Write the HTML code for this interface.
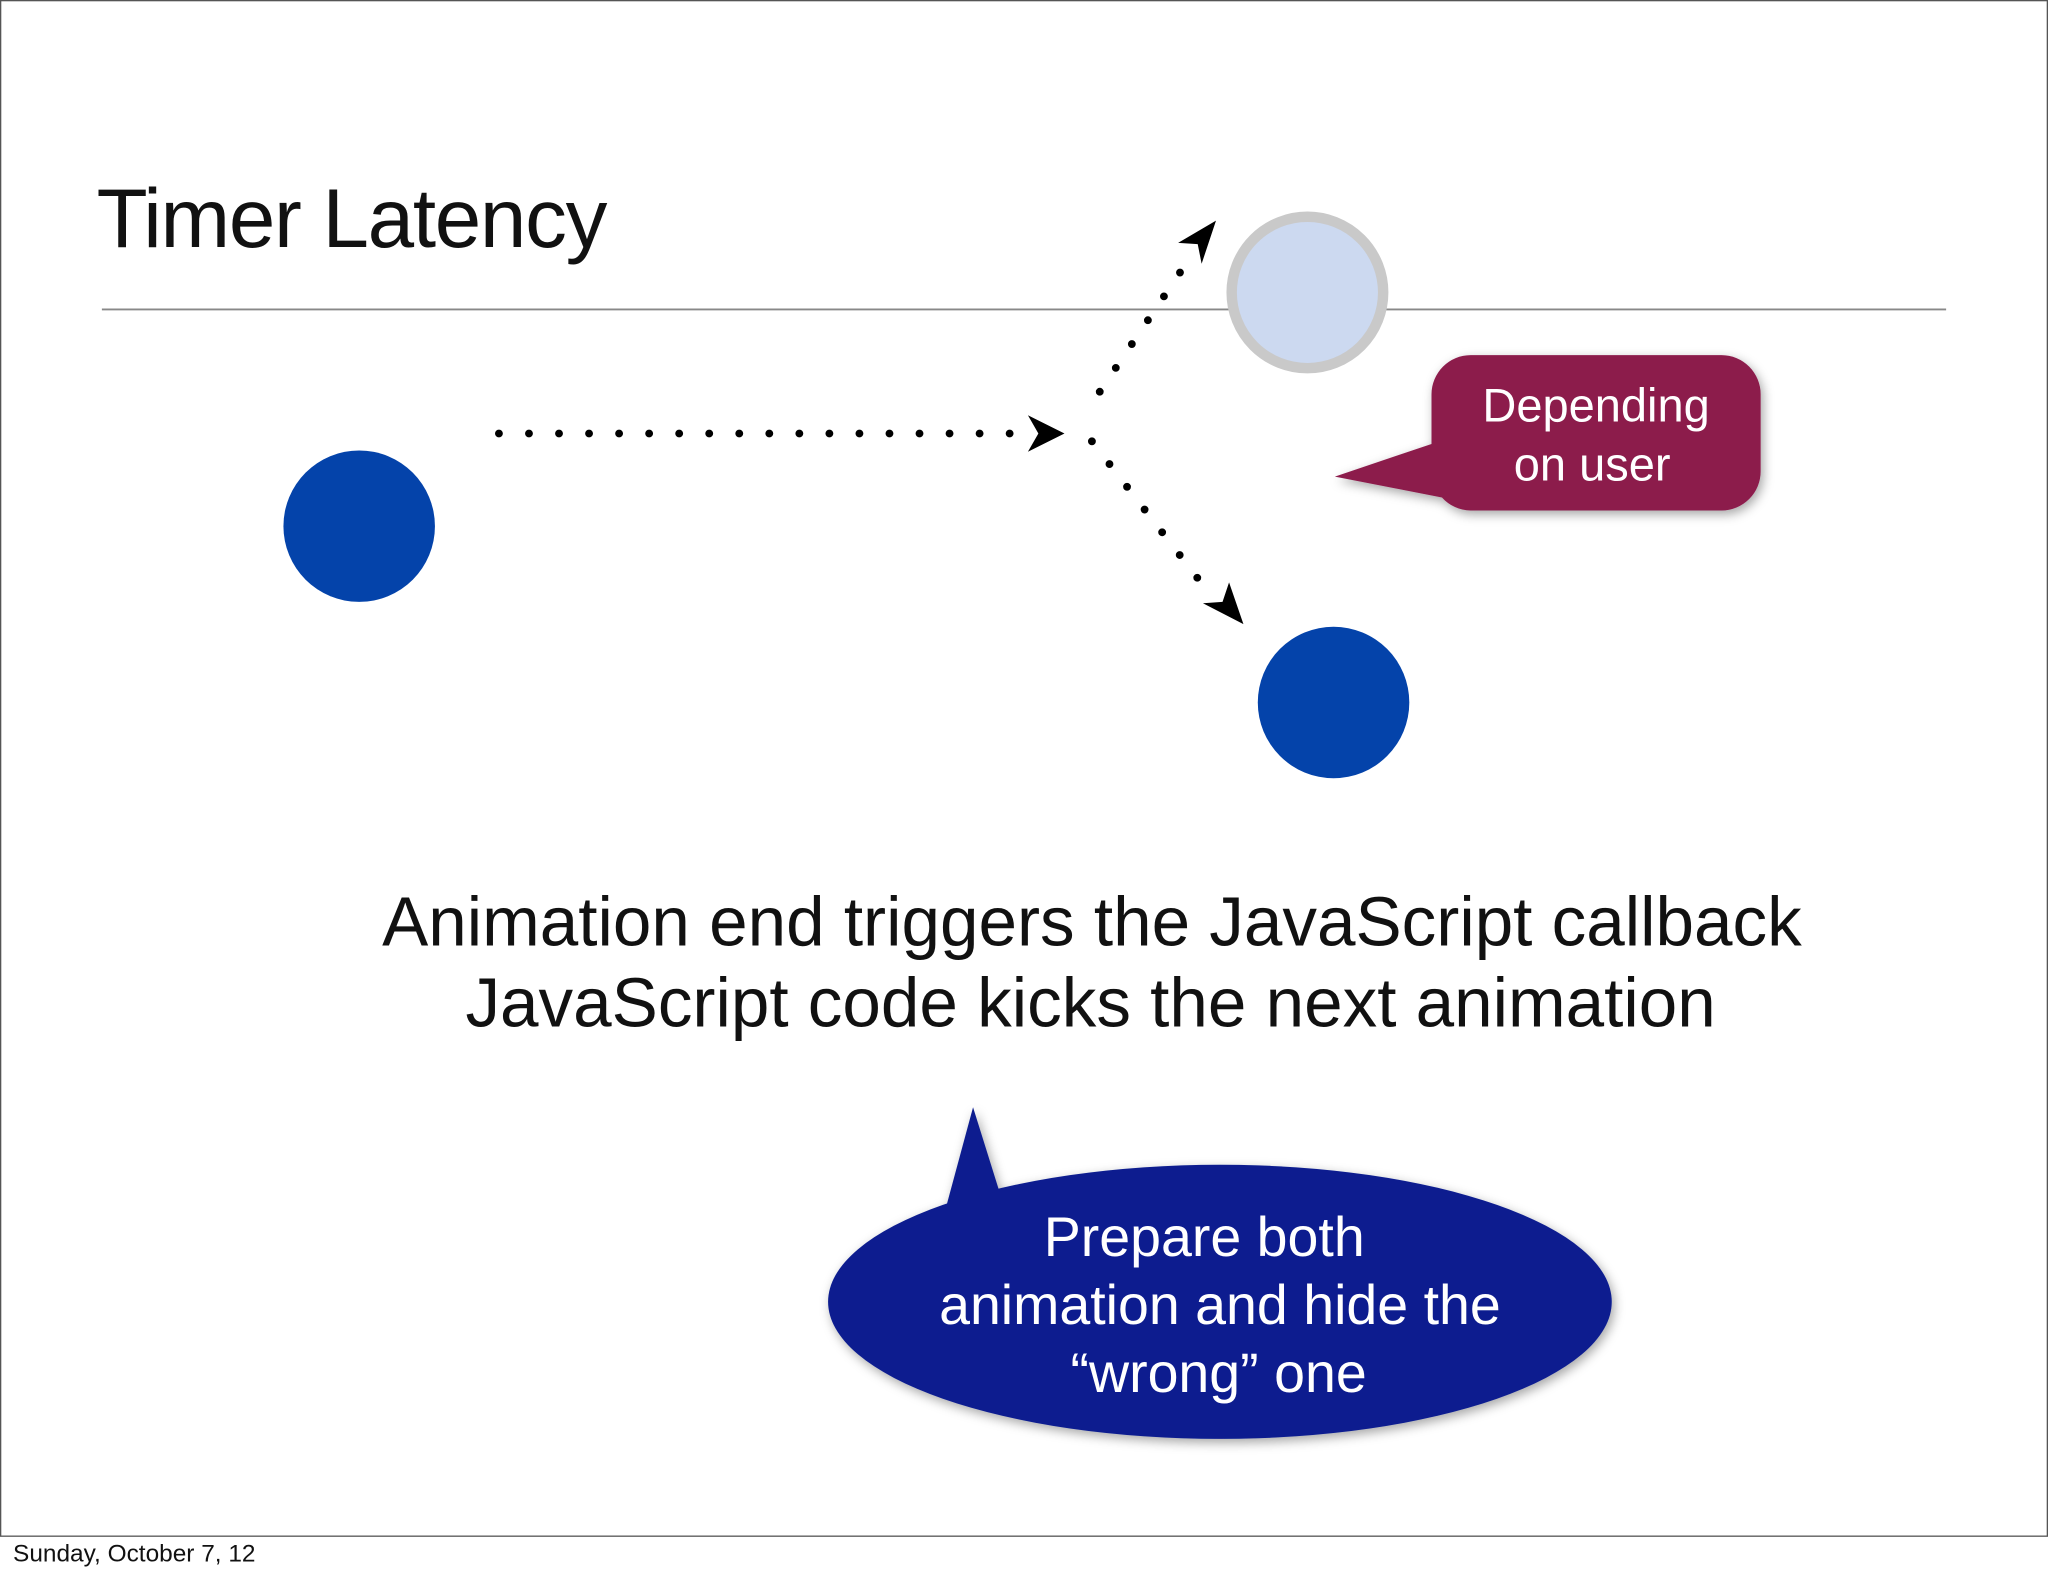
<!DOCTYPE html>
<html><head><meta charset="utf-8"><style>
html,body{margin:0;padding:0;background:#fff;}
svg{display:block;}
text{font-family:"Liberation Sans",sans-serif;}
</style></head><body>
<svg width="2048" height="1576" viewBox="0 0 1568 1207" preserveAspectRatio="none" xmlns="http://www.w3.org/2000/svg">
<defs>
<filter id="sh" x="-20%" y="-20%" width="140%" height="140%"><feDropShadow dx="2" dy="3" stdDeviation="4" flood-color="#000" flood-opacity="0.35"/></filter>
</defs>
<rect x="0.5" y="0.5" width="1567" height="1176" fill="#fff" stroke="#555" stroke-width="1"/>
<text x="10" y="1196" font-size="18.7" fill="#111">Sunday, October 7, 12</text>
<text x="74" y="189" font-size="64" fill="#111" letter-spacing="-1">Timer Latency</text>
<line x1="78" y1="237" x2="1490" y2="237" stroke="#888" stroke-width="1.5"/>
<circle cx="275" cy="403" r="58" fill="#0443aa"/>
<circle cx="1001" cy="224" r="58" fill="#ccd9f0" stroke="#c9c9c9" stroke-width="8"/>
<circle cx="1021" cy="538" r="58" fill="#0443aa"/>
<line x1="382" y1="332" x2="782" y2="332" stroke="#000" stroke-width="6" stroke-linecap="round" stroke-dasharray="0 23"/>
<path d="M815 332 L787 318 L795 332 L787 346 Z" fill="#000"/>
<line x1="842" y1="300" x2="912" y2="196" stroke="#000" stroke-width="6" stroke-linecap="round" stroke-dasharray="0 22"/>
<path d="M931 169 L902 186 L917 187 L920 202 Z" fill="#000"/>
<line x1="836" y1="338" x2="924" y2="452" stroke="#000" stroke-width="6" stroke-linecap="round" stroke-dasharray="0 22"/>
<path d="M952 478 L941 446 L936 461 L921 462 Z" fill="#000"/>
<g filter="url(#sh)">
<path d="M1126 272 H1318 A30 30 0 0 1 1348 302 V361 A30 30 0 0 1 1318 391 H1126 A30 30 0 0 1 1104 381 L1022 365 L1096 340 V302 A30 30 0 0 1 1126 272 Z" fill="#8c1a4c"/>
</g>
<text x="1222" y="323" font-size="36" fill="#fff" text-anchor="middle">Depending</text>
<text x="1219" y="368" font-size="36" fill="#fff" text-anchor="middle">on user</text>
<text x="836" y="724" font-size="53" fill="#111" text-anchor="middle">Animation end triggers the JavaScript callback</text>
<text x="835" y="786" font-size="53" fill="#111" text-anchor="middle">JavaScript code kicks the next animation</text>
<g filter="url(#sh)">
<ellipse cx="934" cy="997" rx="300" ry="105" fill="#0a1f8f"/>
<path d="M725 922 L745 848 L765 912 Z" fill="#0a1f8f"/>
</g>
<text x="922" y="962" font-size="42.5" fill="#fff" text-anchor="middle">Prepare both</text>
<text x="934" y="1014" font-size="42.5" fill="#fff" text-anchor="middle">animation and hide the</text>
<text x="933" y="1066" font-size="42.5" fill="#fff" text-anchor="middle">“wrong” one</text>
</svg>
</body></html>
